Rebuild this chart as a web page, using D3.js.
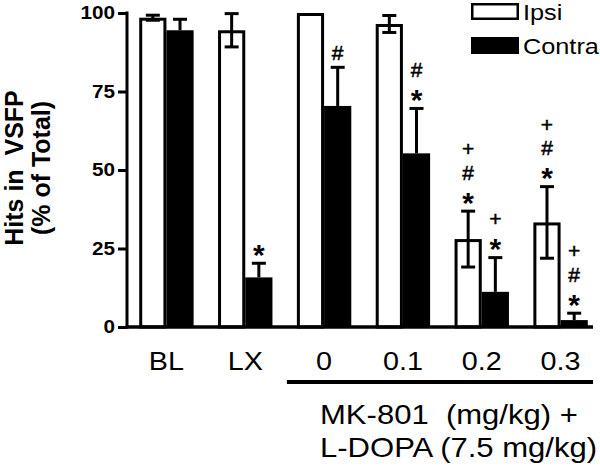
<!DOCTYPE html>
<html>
<head>
<meta charset="utf-8">
<script src="https://cdn.jsdelivr.net/npm/d3@7"></script>
<style>
  body { margin: 0; background: #fff; }
  svg { display: block; font-family: Arial, "Liberation Sans", sans-serif; }
</style>
</head>
<body>
<svg id="chart"></svg>
<script>
var groups = ["BL", "LX", "0", "0.1", "0.2", "0.3"];
var series = ["Ipsi", "Contra"];
var ipsiMeans = [98.5, 94.5, 100, 96.5, 28, 33.3];
var ipsiErr = [0.8, 5.3, 0, 2.7, 8.9, 11.4];
var contraMeans = [94.5, 15.8, 70.4, 55.3, 11.2, 2.2];
var contraErr = [3.5, 4.5, 12.3, 14.3, 10.9, 2.2];
// significance marks, listed bottom to top
var ipsiMarks = [[], [], [], [], ["*", "#", "+"], ["*", "#", "+"]];
var contraMarks = [[], ["*"], ["#"], ["*", "#"], ["*", "+"], ["*", "#", "+"]];
var yTicks = [0, 25, 50, 75, 100];
var yTitle = ["Hits in  VSFP", "(% of Total)"];
var drugLabel = ["MK-801  (mg/kg) +", "L-DOPA (7.5 mg/kg)"];

var width = 600, height = 467;
var axisX = 127, axisY = 327, topY = 13;
var sx = 1.15;

var svg = d3.select("#chart")
  .attr("width", width)
  .attr("height", height);

var y = d3.scaleLinear().domain([0, 100]).range([axisY, topY]);

var x0 = d3.scaleBand()
  .domain(groups)
  .range([axisX, 600])
  .paddingInner(0.31)
  .paddingOuter(0.155);

var x1 = d3.scaleBand()
  .domain(series)
  .range([0, x0.bandwidth()]);

var rows = groups.map(function(g, i) {
  return [
    {g: g, s: "Ipsi", mean: ipsiMeans[i], err: ipsiErr[i], marks: ipsiMarks[i]},
    {g: g, s: "Contra", mean: contraMeans[i], err: contraErr[i], marks: contraMarks[i]}
  ];
});
var flat = d3.merge(rows);

// bars
svg.append("g").selectAll("rect")
  .data(flat)
  .enter().append("rect")
  .attr("x", function(d) { return x0(d.g) + x1(d.s) + (d.s == "Ipsi" ? 1.5 : 0); })
  .attr("width", function(d) { return x1.bandwidth() - (d.s == "Ipsi" ? 3 : 0); })
  .attr("y", function(d) { return y(d.mean) + (d.s == "Ipsi" ? 1.5 : 0); })
  .attr("height", function(d) { return axisY - y(d.mean) - (d.s == "Ipsi" ? 1.5 : 0); })
  .attr("fill", function(d) { return d.s == "Ipsi" ? "#fff" : "#000"; })
  .attr("stroke", "#000")
  .attr("stroke-width", function(d) { return d.s == "Ipsi" ? 3 : 0; });

// error bars
var cap = 7;
var eb = svg.append("g")
  .attr("stroke", "#000")
  .attr("stroke-width", 3)
  .selectAll("g")
  .data(flat.filter(function(d) { return d.err > 0; }))
  .enter().append("g");

eb.append("line")
  .attr("x1", function(d) { return x0(d.g) + x1(d.s) + x1.bandwidth() / 2; })
  .attr("x2", function(d) { return x0(d.g) + x1(d.s) + x1.bandwidth() / 2; })
  .attr("y1", function(d) { return d.s == "Ipsi" ? y(d.mean - d.err) : y(d.mean); })
  .attr("y2", function(d) { return y(d.mean + d.err); });

eb.append("line")
  .attr("x1", function(d) { return x0(d.g) + x1(d.s) + x1.bandwidth() / 2 - cap; })
  .attr("x2", function(d) { return x0(d.g) + x1(d.s) + x1.bandwidth() / 2 + cap; })
  .attr("y1", function(d) { return y(d.mean + d.err); })
  .attr("y2", function(d) { return y(d.mean + d.err); });

eb.filter(function(d) { return d.s == "Ipsi"; }).append("line")
  .attr("x1", function(d) { return x0(d.g) + x1(d.s) + x1.bandwidth() / 2 - cap; })
  .attr("x2", function(d) { return x0(d.g) + x1(d.s) + x1.bandwidth() / 2 + cap; })
  .attr("y1", function(d) { return y(d.mean - d.err); })
  .attr("y2", function(d) { return y(d.mean - d.err); });

// significance marks stacked above error bars
var markStyle = {
  "*": {size: 30, weight: "bold", k: 0.56, sw: 0},
  "#": {size: 21, weight: "normal", k: 0.35, sw: 0.5},
  "+": {size: 21, weight: "normal", k: 0.33, sw: 0.5}
};
flat.forEach(function(d) {
  var cx = x0(d.g) + x1(d.s) + x1.bandwidth() / 2;
  var base = y(d.mean + d.err);
  d.marks.forEach(function(m, j) {
    var cy = base - 15 - j * 23.5;
    var st = markStyle[m];
    svg.append("text")
      .attr("x", cx)
      .attr("y", cy + st.k * st.size)
      .attr("text-anchor", "middle")
      .attr("font-size", st.size)
      .attr("font-weight", st.weight)
      .attr("stroke", "#000")
      .attr("stroke-width", st.sw)
      .text(m);
  });
});

// y axis
var yAxis = svg.append("g")
  .attr("transform", "translate(" + axisX + ",0)")
  .call(d3.axisLeft(y).tickValues(yTicks).tickSize(9).tickPadding(3));

yAxis.select(".domain")
  .attr("d", "M0," + (axisY + 1.5) + "V" + (topY - 1.5))
  .attr("stroke-width", 3);
yAxis.selectAll(".tick line").attr("stroke-width", 3);
yAxis.selectAll(".tick text")
  .attr("font-family", "Arial, 'Liberation Sans', sans-serif")
  .attr("font-size", 18)
  .attr("font-weight", "bold")
  .attr("fill", "#000")
  .attr("x", -12 / sx)
  .attr("transform", "scale(" + sx + ",1)");

// x axis baseline
svg.append("line")
  .attr("x1", axisX - 1.5).attr("x2", 593)
  .attr("y1", axisY).attr("y2", axisY)
  .attr("stroke", "#000")
  .attr("stroke-width", 3.5);

// group labels
svg.append("g").selectAll("text")
  .data(groups)
  .enter().append("text")
  .attr("transform", function(d) {
    return "translate(" + (x0(d) + x0.bandwidth() / 2) + ",370) scale(" + sx + ",1)";
  })
  .attr("text-anchor", "middle")
  .attr("font-size", 25)
  .text(function(d) { return d; });

// bracket under drug doses
svg.append("line")
  .attr("x1", x0("0") - 10).attr("x2", 593)
  .attr("y1", 382).attr("y2", 382)
  .attr("stroke", "#000")
  .attr("stroke-width", 4);

svg.append("g").selectAll("text")
  .data(drugLabel)
  .enter().append("text")
  .attr("transform", function(d, i) { return "translate(320," + (424 + i * 33) + ") scale(" + sx + ",1)"; })
  .attr("font-size", 27)
  .style("white-space", "pre")
  .text(function(d) { return d; });

// y title
svg.append("g").selectAll("text")
  .data(yTitle)
  .enter().append("text")
  .attr("transform", function(d, i) { return "translate(" + (23 + i * 27) + ",168) rotate(-90)"; })
  .attr("text-anchor", "middle")
  .attr("font-size", 25)
  .attr("font-weight", "bold")
  .style("white-space", "pre")
  .text(function(d) { return d; });

// legend
var legend = svg.append("g").selectAll("g")
  .data(series)
  .enter().append("g")
  .attr("transform", function(d, i) { return "translate(471," + (3 + i * 34) + ")"; });

legend.append("rect")
  .attr("x", function(d) { return d == "Ipsi" ? 1.25 : 0; })
  .attr("y", function(d) { return d == "Ipsi" ? 1.25 : 0; })
  .attr("width", function(d) { return d == "Ipsi" ? 45.5 : 48; })
  .attr("height", function(d) { return d == "Ipsi" ? 14.5 : 17; })
  .attr("fill", function(d) { return d == "Ipsi" ? "#fff" : "#000"; })
  .attr("stroke", "#000")
  .attr("stroke-width", function(d) { return d == "Ipsi" ? 2.5 : 0; });

legend.append("text")
  .attr("transform", "translate(52,16.5) scale(" + sx + ",1)")
  .attr("font-size", 22)
  .text(function(d) { return d; });
</script>
</body>
</html>
